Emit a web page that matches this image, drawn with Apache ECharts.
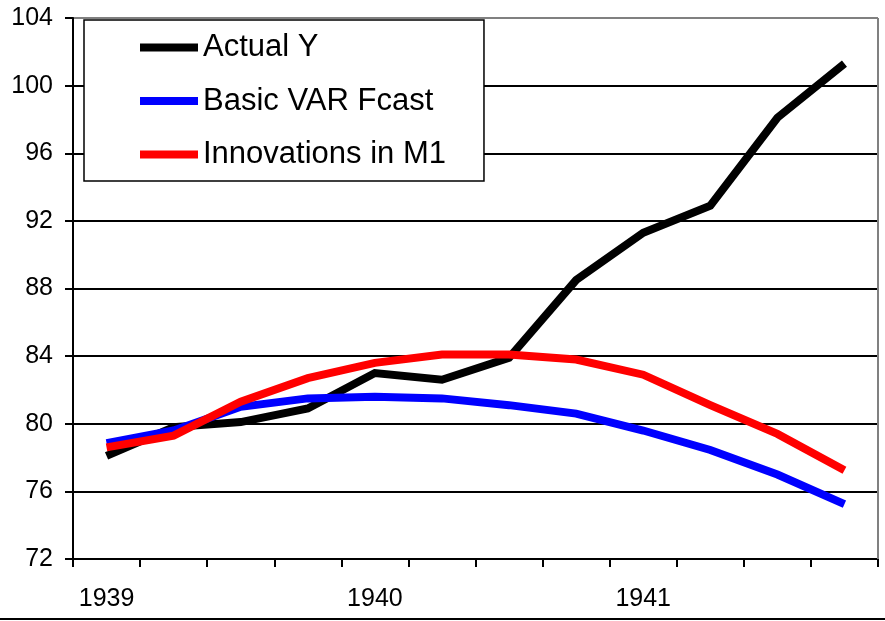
<!DOCTYPE html>
<html><head><meta charset="utf-8">
<script src="https://cdn.jsdelivr.net/npm/echarts@6/dist/echarts.min.js"></script>
<style>html,body{margin:0;padding:0;background:#fff}#c{width:885px;height:621px}</style>
</head><body><div id="c"></div>
<script>
const categories = ['1939Q1','1939Q2','1939Q3','1939Q4','1940Q1','1940Q2','1940Q3','1940Q4','1941Q1','1941Q2','1941Q3','1941Q4'];
const actualY = [78.1, 79.8, 80.1, 80.9, 83.0, 82.6, 83.9, 88.5, 91.3, 92.9, 98.1, 101.3];
const basicVAR = [78.85, 79.6, 81.0, 81.5, 81.6, 81.5, 81.1, 80.6, 79.6, 78.45, 77.0, 75.25];
const innovM1 = [78.6, 79.3, 81.3, 82.7, 83.6, 84.1, 84.1, 83.8, 82.9, 81.1, 79.4, 77.25];
const seriesNames = ['Actual Y', 'Basic VAR Fcast', 'Innovations in M1'];
const yTicks = [72, 76, 80, 84, 88, 92, 96, 100, 104];

const font = 'Liberation Sans, Arial, sans-serif';
const chart = echarts.init(document.getElementById('c'));
const mk = (name, data, color) => ({
  name, type: 'line', data, symbol: 'none', smooth: false,
  lineStyle: { width: 8, color, join: 'miter' }, itemStyle: { color },
  animation: false, z: 3
});
chart.setOption({
  animation: false,
  grid: { left: 73, right: 7, top: 18, bottom: 62, show: false },
  legend: {
    orient: 'vertical', left: 84, top: 20,
    data: seriesNames,
    icon: 'rect', itemWidth: 58, itemHeight: 8, itemGap: 22.5,
    padding: [12, 38, 11, 56],
    borderColor: '#000', borderWidth: 1.5, backgroundColor: '#fff',
    textStyle: { fontFamily: font, fontSize: 31, color: '#000' },
    selectedMode: false
  },
  xAxis: {
    type: 'category', data: categories, boundaryGap: true,
    axisLine: { lineStyle: { color: '#000', width: 2 } },
    axisTick: { show: true, interval: 0, length: 8, lineStyle: { color: '#000', width: 2 } },
    axisLabel: {
      interval: 0, margin: 28, fontFamily: font, fontSize: 25, color: '#000',
      formatter: v => v.endsWith('Q1') ? v.slice(0, 4) : ''
    },
    splitLine: { show: false }
  },
  yAxis: {
    type: 'value', min: yTicks[0], max: yTicks[yTicks.length - 1], interval: 4,
    axisLine: { show: true, lineStyle: { color: '#000', width: 2 } },
    axisTick: { show: true, length: 8, lineStyle: { color: '#000', width: 2 } },
    axisLabel: { margin: 20, fontFamily: font, fontSize: 25, color: '#000' },
    splitLine: { show: true, lineStyle: { color: ['#000','#000','#000','#000','#000','#000','#000','#000','#808080'], width: 2 } }
  },
  graphic: [
    { type: 'line', shape: { x1: 878, y1: 18, x2: 878, y2: 559 }, style: { stroke: '#808080', lineWidth: 2 }, z: 1 },
    { type: 'line', shape: { x1: 0, y1: 619, x2: 885, y2: 619 }, style: { stroke: '#000', lineWidth: 2 }, z: 1 }
  ],
  series: [
    mk(seriesNames[0], actualY, '#000000'),
    mk(seriesNames[1], basicVAR, '#0000ff'),
    mk(seriesNames[2], innovM1, '#ff0000')
  ]
});
</script></body></html>
